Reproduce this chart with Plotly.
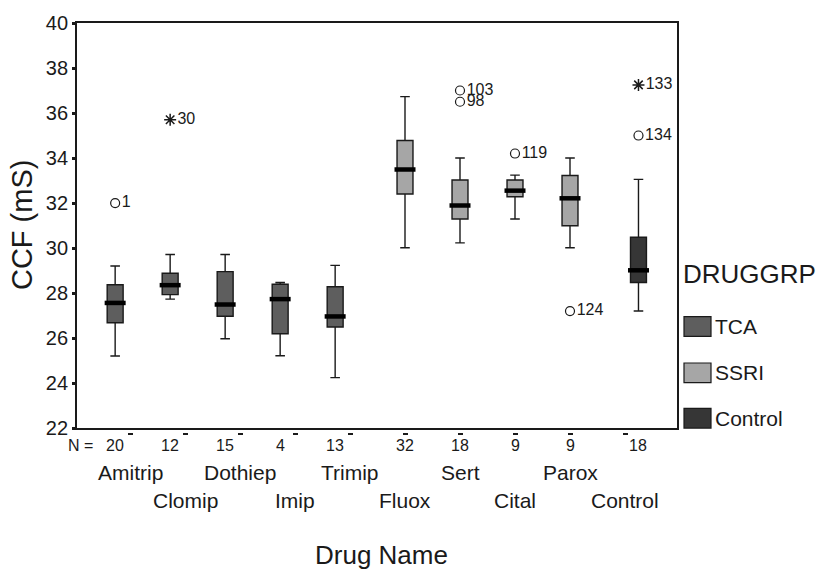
import plotly.graph_objects as go

# ---------------- data ----------------
drugs = ["Amitrip", "Clomip", "Dothiep", "Imip", "Trimip",
         "Fluox", "Sert", "Cital", "Parox", "Control"]
groups = ["TCA"] * 5 + ["SSRI"] * 4 + ["Control"]
n_counts = [20, 12, 15, 4, 13, 32, 18, 9, 9, 18]
q1 = [26.68, 27.93, 26.97, 26.19, 26.49, 32.40, 31.29, 32.28, 30.99, 28.47]
median = [27.56, 28.35, 27.49, 27.73, 26.96, 33.49, 31.89, 32.55, 32.21, 29.01]
q3 = [28.37, 28.88, 28.95, 28.39, 28.28, 34.78, 33.02, 33.02, 33.22, 30.48]
lower_whisker = [25.20, 27.73, 25.97, 25.21, 24.24, 30.01, 30.23, 31.29, 30.01, 27.20]
upper_whisker = [29.20, 29.71, 29.71, 28.47, 29.23, 36.73, 34.00, 33.24, 34.00, 33.05]

# outliers: (drug index, value, case label, kind)
out_drug = [0, 6, 6, 7, 8, 9]
out_value = [32.0, 37.0, 36.5, 34.2, 27.2, 35.0]
out_label = ["1", "103", "98", "119", "124", "134"]
ext_drug = [1, 9]
ext_value = [35.7, 37.25]
ext_label = ["30", "133"]

group_names = ["TCA", "SSRI", "Control"]
group_offset = {"TCA": -0.27, "SSRI": 0.0, "Control": 0.245}
group_fill = {"TCA": "#5e5e5e", "SSRI": "#a6a6a6", "Control": "#363636"}

y_ticks = [22, 24, 26, 28, 30, 32, 34, 36, 38, 40]

FONT = "Liberation Sans, Arial, sans-serif"
INK = "#1a1a1a"

# ---------------- layout geometry (pixels) ----------------
W, H = 816, 572
L, R, T, B = 77, 139, 17, 140
plot_h = H - T - B  # paper height
gap = 4  # gap between axis line and x tick dashes


def px_x(p):
    return (p - L) / (W - L - R)


def px_y(p):
    return (H - B - p) / plot_h


fig = go.Figure()

pos = [i + group_offset[g] for i, g in enumerate(groups)]

for g in group_names:
    idx = [i for i, gg in enumerate(groups) if gg == g]
    fig.add_trace(go.Box(
        x=[pos[i] for i in idx],
        q1=[q1[i] for i in idx],
        median=[median[i] for i in idx],
        q3=[q3[i] for i in idx],
        lowerfence=[lower_whisker[i] for i in idx],
        upperfence=[upper_whisker[i] for i in idx],
        width=0.29,
        whiskerwidth=0.6,
        fillcolor=group_fill[g],
        line=dict(color=INK, width=1.4),
        boxpoints=False,
        showlegend=False,
        name=g,
    ))

# thick medians
fig.add_trace(go.Scatter(
    x=pos, y=median, mode="markers",
    marker=dict(symbol="line-ew", size=15, line=dict(width=4.5, color="black")),
    showlegend=False, hoverinfo="skip",
))

# outliers (circles)
fig.add_trace(go.Scatter(
    x=[pos[i] for i in out_drug], y=out_value, mode="markers+text",
    marker=dict(symbol="circle-open", size=9, color=INK, line=dict(width=1.2)),
    text=out_label, textposition="middle right",
    textfont=dict(family=FONT, size=16, color=INK),
    showlegend=False, cliponaxis=False,
))
# extremes (asterisks)
fig.add_trace(go.Scatter(
    x=[pos[i] for i in ext_drug], y=ext_value, mode="markers+text",
    marker=dict(symbol="asterisk-open", size=10, color=INK, line=dict(width=1.5, color=INK)),
    text=ext_label, textposition="middle right",
    textfont=dict(family=FONT, size=16, color=INK),
    showlegend=False, cliponaxis=False,
))

# dummy trace on the secondary x axis (for the small dashes)
fig.add_trace(go.Scatter(x=[None], y=[None], xaxis="x2", showlegend=False))

annotations = []
# N row
annotations.append(dict(text="N =", x=px_x(95), xref="paper", xanchor="right",
                        y=0, yref="paper", yanchor="middle", yshift=-13,
                        showarrow=False, font=dict(family=FONT, size=16, color=INK)))
for i, n in enumerate(n_counts):
    annotations.append(dict(text=str(n), x=pos[i], xref="x", xanchor="center",
                            y=0, yref="paper", yanchor="middle", yshift=-13,
                            showarrow=False, font=dict(family=FONT, size=16, color=INK)))
# drug names, staggered
for i, d in enumerate(drugs):
    annotations.append(dict(text=d, x=i, xref="x", xanchor="center",
                            y=0, yref="paper", yanchor="middle",
                            yshift=-40 if i % 2 == 0 else -68,
                            showarrow=False, font=dict(family=FONT, size=21, color=INK)))
# axis titles
annotations.append(dict(text="Drug Name", x=px_x(381), xref="paper", xanchor="center",
                        y=0, yref="paper", yanchor="middle", yshift=-123,
                        showarrow=False, font=dict(family=FONT, size=26, color=INK)))
annotations.append(dict(text="CCF (mS)", x=px_x(22), xref="paper", xanchor="center",
                        y=px_y(222), yref="paper", yanchor="middle", textangle=-90,
                        showarrow=False, font=dict(family=FONT, size=29, color=INK)))

# manual legend
shapes = []
annotations.append(dict(text="DRUGGRP", x=px_x(681), xref="paper", xanchor="left",
                        y=px_y(272), yref="paper", yanchor="middle",
                        showarrow=False, font=dict(family=FONT, size=26, color=INK)))
leg_y = [325, 372, 418]
for g, yc in zip(group_names, leg_y):
    shapes.append(dict(type="rect", xref="paper", yref="paper",
                       x0=px_x(684), x1=px_x(711), y0=px_y(yc - 10), y1=px_y(yc + 10),
                       fillcolor=group_fill[g], line=dict(color=INK, width=1.2)))
    annotations.append(dict(text=g, x=px_x(713), xref="paper", xanchor="left",
                            y=px_y(yc), yref="paper", yanchor="middle",
                            showarrow=False, font=dict(family=FONT, size=21, color=INK)))

x_range = [(L - 130) / 55, (W - R - 130) / 55]

fig.update_layout(
    width=W, height=H,
    margin=dict(l=L, r=R, t=T, b=B, pad=0),
    paper_bgcolor="white", plot_bgcolor="white",
    boxmode="overlay",
    font=dict(family=FONT, color=INK),
    xaxis=dict(range=x_range, showgrid=False, zeroline=False, showticklabels=False,
               ticks="", showline=True, linecolor=INK, linewidth=1.5, mirror=True,
               anchor="y"),
    xaxis2=dict(range=x_range, overlaying="x", anchor="free", position=0,
                showgrid=False, zeroline=False, showline=False, showticklabels=False,
                tickmode="array", tickvals=list(range(len(drugs))),
                ticks="outside", ticklen=2, tickwidth=5, tickcolor=INK),
    yaxis=dict(range=[22, 40], domain=[gap / plot_h, 1], showgrid=False, zeroline=False,
               tickmode="array", tickvals=y_ticks, ticks="outside", ticklen=3,
               tickwidth=3, tickcolor=INK, showline=True, linecolor=INK, linewidth=1.8,
               mirror=True, tickfont=dict(family=FONT, size=20, color=INK)),
    annotations=annotations,
    shapes=shapes,
)

fig.write_html("out.html")
